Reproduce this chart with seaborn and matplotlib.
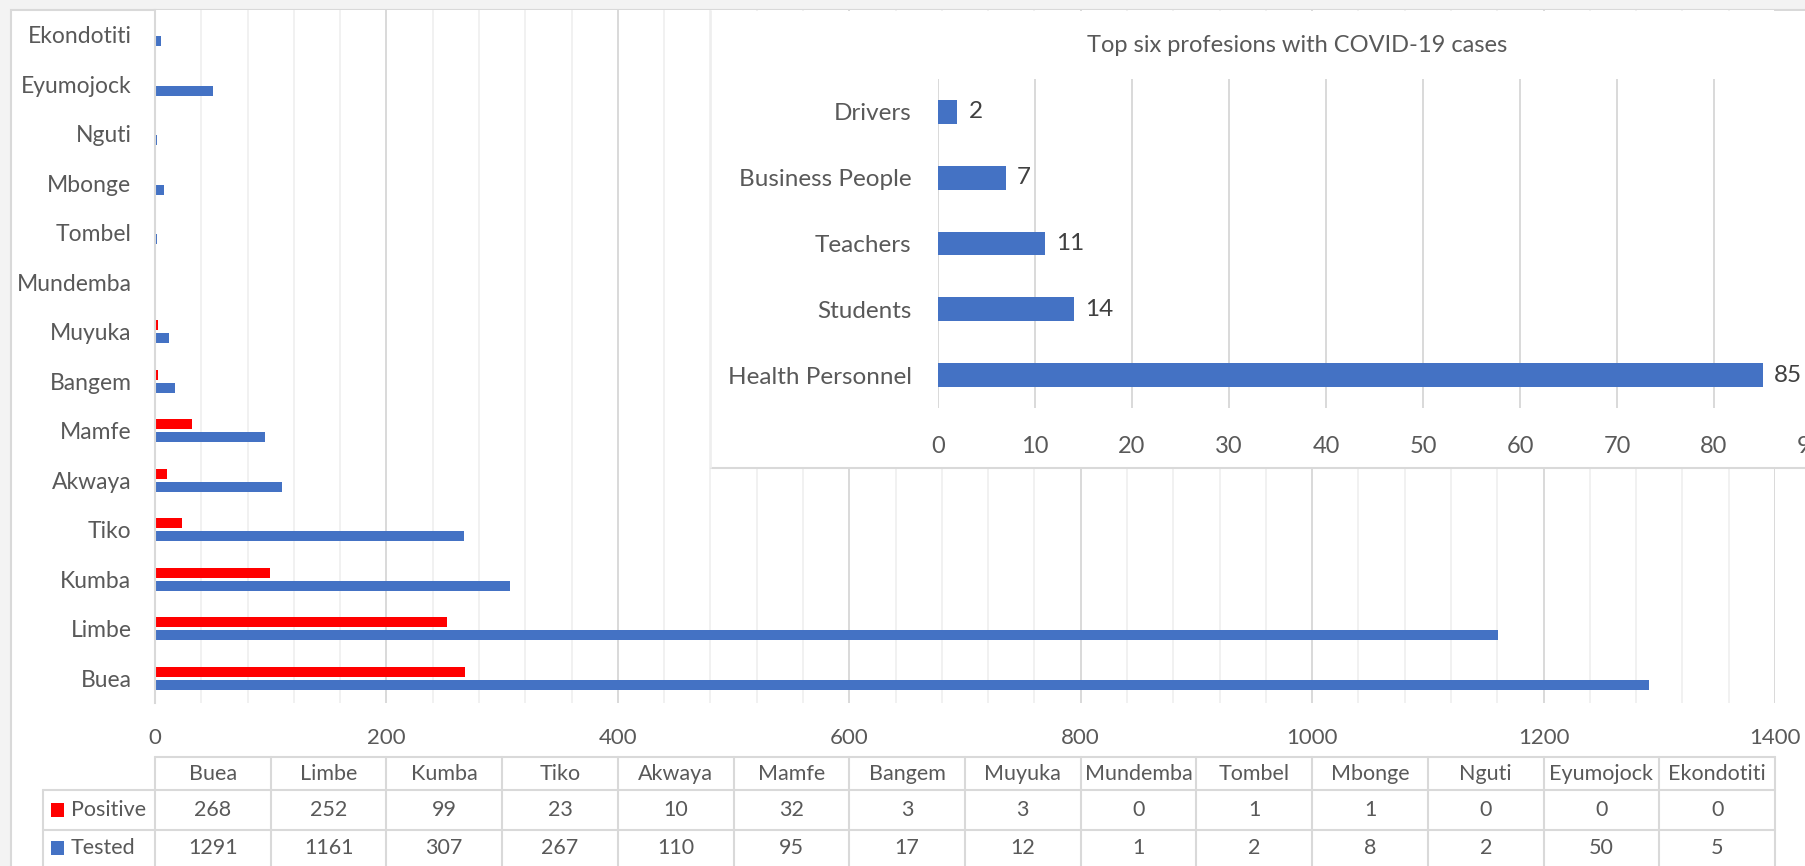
import pandas as pd
import seaborn as sns
import matplotlib.pyplot as plt
from matplotlib.patches import Rectangle
from matplotlib.lines import Line2D
from matplotlib.ticker import MultipleLocator

districts = ['Buea', 'Limbe', 'Kumba', 'Tiko', 'Akwaya', 'Mamfe', 'Bangem',
             'Muyuka', 'Mundemba', 'Tombel', 'Mbonge', 'Nguti', 'Eyumojock', 'Ekondotiti']
positive = [268, 252, 99, 23, 10, 32, 3, 3, 0, 1, 1, 0, 0, 0]
tested = [1291, 1161, 307, 267, 110, 95, 17, 12, 1, 2, 8, 2, 50, 5]

professions = ['Drivers', 'Business People', 'Teachers', 'Students', 'Health Personnel']
prof_cases = [2, 7, 11, 14, 85]

series_colors = {'Positive': '#FF0000', 'Tested': '#4472C4'}
text_gray = '#595959'
grid_gray = '#d9d9d9'

W, H = 1805, 866


def fx(px):
    return px / W


def fy(py):
    return 1 - py / H


sns.set_style('white')
plt.rcParams['font.family'] = ['Lato', 'DejaVu Sans']

fig = plt.figure(figsize=(W / 100, H / 100), dpi=100)
fig.patch.set_facecolor('#f3f3f3')
fig.add_artist(Rectangle((fx(11), fy(900)), fx(1900), (900 - 10) / H, transform=fig.transFigure,
                         facecolor='white', edgecolor=grid_gray, lw=1.5, zorder=-1))

# main chart
df = pd.DataFrame({
    'district': districts * 2,
    'count': positive + tested,
    'series': ['Positive'] * len(districts) + ['Tested'] * len(districts),
})
ax = fig.add_axes([fx(155), fy(703), fx(1620), 693 / H])
sns.barplot(data=df, x='count', y='district', hue='series', order=districts[::-1],
            hue_order=['Positive', 'Tested'], palette=series_colors, orient='h',
            width=0.52, gap=0.2, linewidth=0, saturation=1, legend=False, ax=ax)
ax.set_xlim(0, 1400)
ax.set_ylim(len(districts) - 0.5, -0.5)
ax.xaxis.set_major_locator(MultipleLocator(200))
ax.xaxis.set_minor_locator(MultipleLocator(40))
ax.grid(which='major', axis='x', color=grid_gray, lw=1.4)
ax.grid(which='minor', axis='x', color='#efefef', lw=1.2)
ax.set_axisbelow(True)
ax.set_yticks([i - 0.5 for i in range(len(districts) + 1)], minor=True)
ax.tick_params(axis='y', which='major', length=0, pad=17, labelsize=16.5, labelcolor=text_gray)
ax.tick_params(axis='y', which='minor', length=6, width=1.5, color=grid_gray)
ax.tick_params(axis='x', which='both', length=0, pad=18, labelsize=16, labelcolor=text_gray)
ax.set_xlabel('')
ax.set_ylabel('')
for s in ['top', 'right', 'bottom']:
    ax.spines[s].set_visible(False)
ax.spines['left'].set_color(grid_gray)
ax.spines['left'].set_linewidth(1.5)

# data table under the chart (pixel overlay)
tb = fig.add_axes([0, 0, 1, 1], zorder=1)
tb.set_xlim(0, W)
tb.set_ylim(H, 0)
tb.axis('off')
x0, col_w = 155, 1620 / len(districts)
x_end = x0 + col_w * len(districts)
row_top, row_hdr, row_pos, row_bot = 757, 790, 830, 870
lk = dict(color=grid_gray, lw=1.5)
tb.plot([x0, x_end], [row_top, row_top], **lk)
tb.plot([43, x_end], [row_hdr, row_hdr], **lk)
tb.plot([43, x_end], [row_pos, row_pos], **lk)
tb.plot([43, 43], [row_hdr, row_bot], **lk)
for i in range(len(districts) + 1):
    tb.plot([x0 + i * col_w] * 2, [row_top, row_bot], **lk)
for i, name in enumerate(districts):
    cx = x0 + (i + 0.5) * col_w
    tb.text(cx, (row_top + row_hdr) / 2, name, ha='center', va='center', fontsize=15.5, color=text_gray)
    tb.text(cx, (row_hdr + row_pos) / 2, str(positive[i]), ha='center', va='center', fontsize=15.5, color=text_gray)
    tb.text(cx, (row_pos + 866) / 2, str(tested[i]), ha='center', va='center', fontsize=15.5, color=text_gray)
for label, (ya, yb) in [('Positive', (row_hdr, row_pos)), ('Tested', (row_pos, 866))]:
    yc = (ya + yb) / 2
    tb.add_patch(Rectangle((51, yc - 7), 13, 14, facecolor=series_colors[label], lw=0))
    tb.text(71, yc, label, ha='left', va='center', fontsize=15.5, color=text_gray)

# inset chart box
fig.add_artist(Rectangle((fx(711), fy(468)), fx(1200), (468 - 11) / H, transform=fig.transFigure,
                         facecolor='white', lw=0, zorder=2))
fig.add_artist(Line2D([fx(711), 1], [fy(468), fy(468)], color=grid_gray, lw=1.5, zorder=2.5))
fig.add_artist(Line2D([fx(711), fx(711)], [fy(468), fy(11)], color='#eeeeee', lw=1.2, zorder=2.5))

ax2 = fig.add_axes([fx(938), fy(408), fx(873), 329 / H], zorder=3)
ax2.patch.set_alpha(0)
sns.barplot(x=prof_cases, y=professions, color='#4472C4', orient='h', width=0.36,
            linewidth=0, saturation=1, ax=ax2)
ax2.set_xlim(0, 90)
ax2.xaxis.set_major_locator(MultipleLocator(10))
ax2.grid(axis='x', color=grid_gray, lw=1.4)
ax2.set_axisbelow(True)
ax2.tick_params(axis='y', length=0, pad=19, labelsize=17.5, labelcolor=text_gray)
ax2.tick_params(axis='x', length=0, pad=20, labelsize=17, labelcolor=text_gray)
for s in ax2.spines.values():
    s.set_visible(False)
ax2.bar_label(ax2.containers[0], padding=8, fontsize=17.5, color='#404040')
fig.text(fx(1297), fy(46), 'Top six profesions with COVID-19 cases', ha='center', va='center',
         fontsize=17, color=text_gray, zorder=4)

fig.savefig('out.png', dpi=100)
